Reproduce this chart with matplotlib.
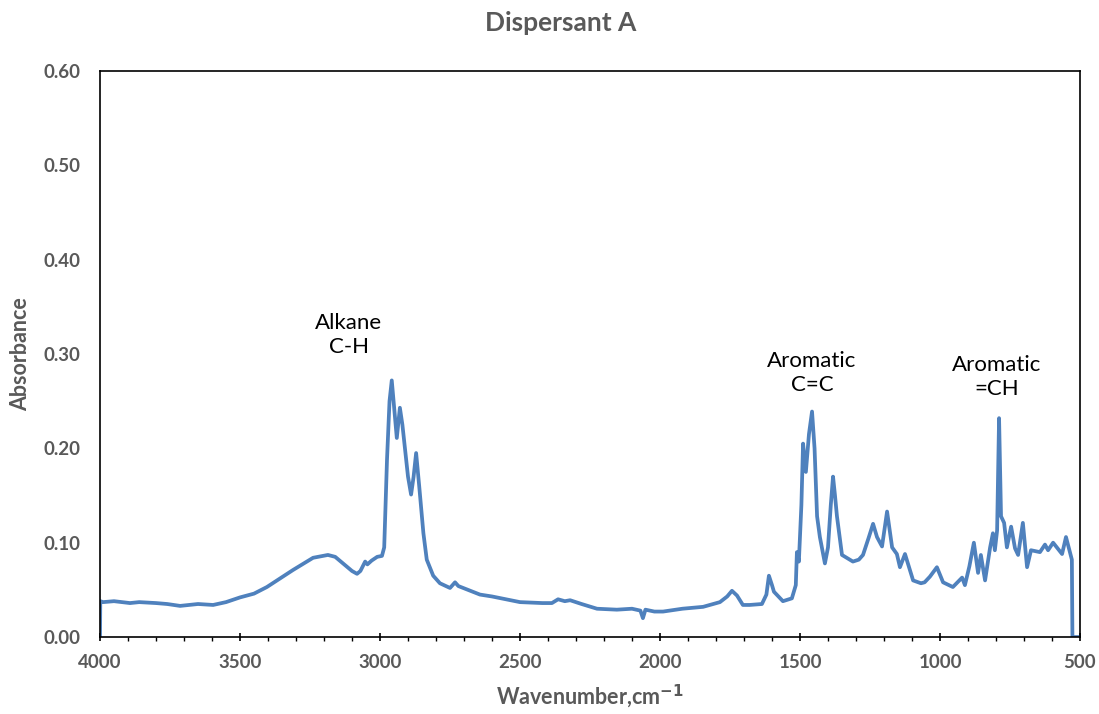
import matplotlib
matplotlib.use("Agg")
import matplotlib.pyplot as plt
from matplotlib.ticker import MultipleLocator, FormatStrFormatter

wavenumber = [4000, 3999, 3989, 3950, 3893, 3860, 3800, 3760, 3714, 3650, 3596, 3550, 3500, 3450,
              3404, 3311, 3239, 3186, 3160, 3132, 3100, 3082, 3070, 3053, 3045, 3030, 3010, 2993,
              2985, 2975, 2966, 2958, 2950, 2940, 2929, 2920, 2900, 2889, 2880, 2871, 2860, 2845,
              2833, 2810, 2786, 2750, 2732, 2720, 2703, 2643, 2600, 2550, 2500, 2420, 2386, 2364,
              2340, 2321, 2280, 2225, 2154, 2100, 2070, 2061, 2052, 2020, 1989, 1920, 1846, 1786,
              1760, 1743, 1725, 1704, 1680, 1636, 1620, 1611, 1600, 1593, 1561, 1529, 1515, 1511,
              1504, 1495, 1489, 1479, 1468, 1457, 1448, 1439, 1429, 1411, 1400, 1390, 1382, 1375,
              1368, 1350, 1311, 1290, 1275, 1255, 1239, 1225, 1207, 1189, 1171, 1154, 1143, 1125,
              1096, 1068, 1055, 1036, 1011, 989, 954, 921, 911, 895, 879, 864, 854, 839, 821, 811,
              804, 796, 789, 782, 771, 761, 746, 732, 721, 704, 689, 675, 643, 625, 614, 596, 564,
              550, 529, 527, 500]
absorbance = [0.000, 0.038, 0.037, 0.038, 0.036, 0.037, 0.036, 0.035, 0.033, 0.035, 0.034, 0.037, 0.042, 0.046,
              0.053, 0.071, 0.084, 0.087, 0.085, 0.078, 0.070, 0.067, 0.070, 0.080, 0.077, 0.081, 0.085, 0.086,
              0.095, 0.188, 0.250, 0.272, 0.245, 0.211, 0.243, 0.225, 0.170, 0.151, 0.170, 0.195, 0.160, 0.110,
              0.082, 0.065, 0.057, 0.052, 0.058, 0.054, 0.052, 0.045, 0.043, 0.040, 0.037, 0.036, 0.036, 0.040,
              0.038, 0.039, 0.035, 0.030, 0.029, 0.030, 0.028, 0.020, 0.029, 0.027, 0.027, 0.030, 0.032, 0.037,
              0.043, 0.049, 0.044, 0.034, 0.034, 0.035, 0.045, 0.065, 0.055, 0.048, 0.038, 0.041, 0.055, 0.090,
              0.080, 0.140, 0.205, 0.175, 0.215, 0.239, 0.200, 0.128, 0.106, 0.078, 0.095, 0.140, 0.170, 0.150,
              0.128, 0.087, 0.080, 0.082, 0.087, 0.105, 0.120, 0.106, 0.096, 0.133, 0.095, 0.088, 0.074, 0.088,
              0.060, 0.057, 0.058, 0.064, 0.074, 0.058, 0.053, 0.063, 0.055, 0.075, 0.100, 0.068, 0.087, 0.060, 0.095, 0.110,
              0.092, 0.113, 0.232, 0.128, 0.121, 0.095, 0.117, 0.094, 0.087, 0.121, 0.074, 0.092, 0.090, 0.098, 0.092, 0.100, 0.088,
              0.106, 0.082, 0.000, 0.000]

title = "Dispersant A"
x_label = "Wavenumber,cm$^{-1}$"
y_label = "Absorbance"
annotations = [("Alkane\nC-H", 3111, 0.320), ("Aromatic\nC=C", 1457, 0.280), ("Aromatic\n=CH", 797, 0.276)]

plt.rcParams['font.family'] = ['Lato', 'DejaVu Sans']
plt.rcParams['mathtext.default'] = 'bf'
gray = "#595959"

fig = plt.figure(figsize=(10.99, 7.14), dpi=100)
ax = fig.add_axes([0.091, 0.1078, 0.8917, 0.7928])
ax.plot(wavenumber, absorbance, color="#4F81BD", lw=2.7, solid_joinstyle="round")
ax.set_xlim(4000, 500)
ax.set_ylim(0, 0.6)
ax.xaxis.set_major_locator(MultipleLocator(500))
ax.xaxis.set_minor_locator(MultipleLocator(100))
ax.yaxis.set_major_locator(MultipleLocator(0.1))
ax.yaxis.set_major_formatter(FormatStrFormatter('%.2f'))
ax.tick_params(axis='x', which='major', direction='inout', length=6, width=1.2, labelsize=13.5, labelcolor=gray, pad=9)
ax.tick_params(axis='x', which='minor', direction='out', length=3, width=1)
ax.tick_params(axis='y', which='major', length=0, labelsize=13.5, labelcolor=gray, pad=14)
for lbl in ax.get_xticklabels() + ax.get_yticklabels():
    lbl.set_fontweight('bold')
for s in ax.spines.values():
    s.set_color('black')
    s.set_linewidth(1.2)
fig.text(561 / 1099, 1 - 23 / 714, title, ha='center', va='center', fontsize=19, fontweight='bold', color=gray)
ax.set_xlabel(x_label, fontsize=15.5, fontweight='bold', color=gray, labelpad=8)
ax.set_ylabel(y_label, fontsize=15.5, fontweight='bold', color=gray, labelpad=9)
for txt, xv, yv in annotations:
    ax.text(xv, yv, txt, ha='center', va='center', fontsize=16, color='black', linespacing=1.25)

fig.savefig("out.png", dpi=100)
